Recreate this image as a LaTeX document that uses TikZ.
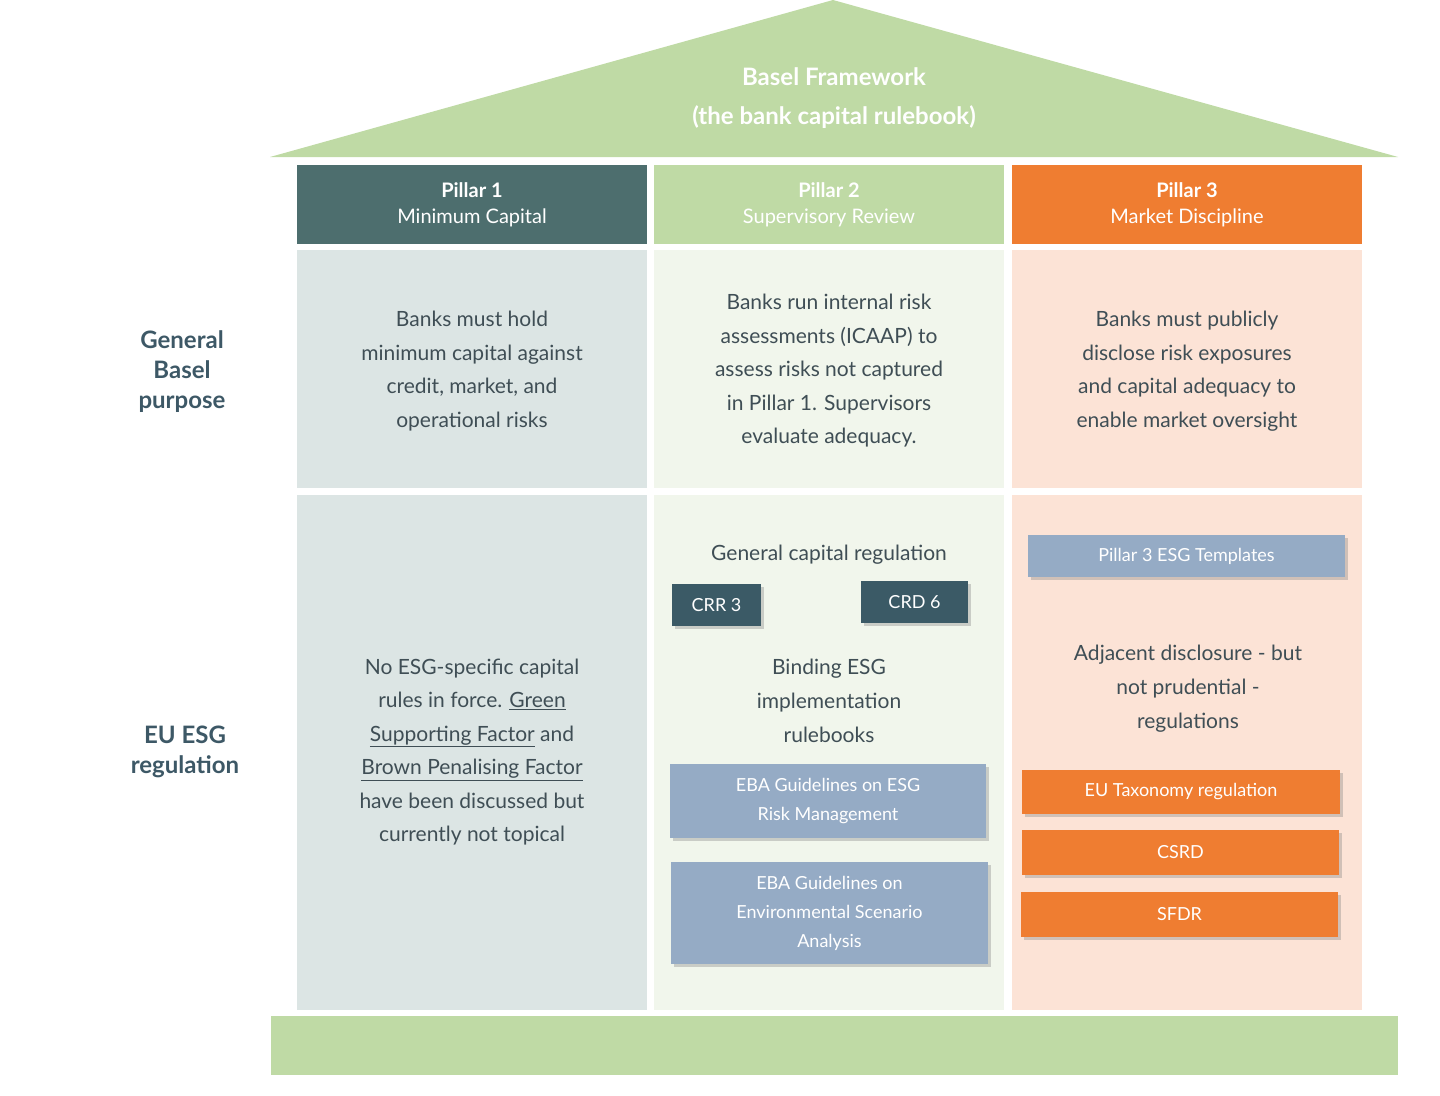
\documentclass[tikz,border=0pt]{standalone}
\usepackage{fontspec}
\setmainfont{Lato}
\usetikzlibrary{shadows}
\definecolor{grn}{HTML}{BFDAA5}
\definecolor{teal}{HTML}{4D6E6E}
\definecolor{org}{HTML}{EF7D31}
\definecolor{c1}{HTML}{DCE5E4}
\definecolor{c2}{HTML}{F1F6EC}
\definecolor{c3}{HTML}{FCE3D6}
\definecolor{txt}{HTML}{3F4E55}
\definecolor{lab}{HTML}{3D5866}
\definecolor{dk}{HTML}{3B5A66}
\definecolor{blu}{HTML}{95ABC5}
\tikzset{
 cell/.style={inner sep=0pt,text=txt,align=center,font=\fontsize{21}{25}\selectfont},
 hdr/.style={align=center,font=\fontsize{20}{26}\selectfont},
 lbl/.style={text=lab,align=center,font=\bfseries\fontsize{24}{30}\selectfont},
 tag/.style={draw=none,minimum height=42pt,text=white,align=center,font=\fontsize{18}{22}\selectfont,drop shadow={shadow xshift=3pt,shadow yshift=-3pt,opacity=0.35}},
}
\begin{document}
\begin{tikzpicture}[x=1pt,y=-1pt]
\useasboundingbox (0,0) rectangle (1440,1095);
\fill[grn] (270,157) -- (833,0) -- (1398,157) -- cycle;
\node[text=white,align=center,font=\bfseries\fontsize{24}{39}\selectfont] (title) at (834,98) {Basel Framework\\(the bank capital rulebook)};
% headers
\fill[teal] (297,165) rectangle (647,244);
\fill[grn] (654,165) rectangle (1004,244);
\fill[org] (1012,165) rectangle (1362,244);
\node[hdr,text=white] (h1) at (472,205) {\textbf{Pillar 1}\\Minimum Capital};
\node[hdr,text=white] (h2) at (829,205) {\textbf{Pillar 2}\\Supervisory Review};
\node[hdr,text=white] (h3) at (1187,205) {\textbf{Pillar 3}\\Market Discipline};
% rows
\fill[c1] (297,250) rectangle (647,488);
\fill[c2] (654,250) rectangle (1004,488);
\fill[c3] (1012,250) rectangle (1362,488);
\fill[c1] (297,495) rectangle (647,1010);
\fill[c2] (654,495) rectangle (1004,1010);
\fill[c3] (1012,495) rectangle (1362,1010);
\fill[grn] (271,1016) rectangle (1398,1075);
% labels
\node[lbl] (l1) at (182,372) {General\\Basel\\purpose};
\node[lbl] (l2) at (185,752) {EU ESG\\regulation};
\node[cell,font=\fontsize{21}{33.5}\selectfont] (t1) at (472,371) {Banks must hold\\minimum capital against\\credit, market, and\\operational risks};
\node[cell,font=\fontsize{21}{33.5}\selectfont] (t2) at (829,371) {Banks run internal risk\\assessments (ICAAP) to\\assess risks not captured\\in Pillar 1. Supervisors\\evaluate adequacy.};
\node[cell,font=\fontsize{21}{33.5}\selectfont] (t3) at (1187,371) {Banks must publicly\\disclose risk exposures\\and capital adequacy to\\enable market oversight};
\node[cell,font=\fontsize{21}{33.5}\selectfont] (t4) at (472,752) {No ESG-specific capital\\rules in force. \underline{Green}\\\underline{Supporting Factor} and\\\underline{Brown Penalising Factor}\\have been discussed but\\currently not topical};
\node[cell] (t5) at (829,555) {General capital regulation};
\node[cell,font=\fontsize{21}{34}\selectfont] (t6) at (829,701) {Binding ESG\\implementation\\rulebooks};
\node[cell,font=\fontsize{21}{34}\selectfont] (t7) at (1188,689) {Adjacent disclosure - but\\not prudential -\\regulations};
% tags
\node[tag,fill=dk,minimum width=89pt] (crr) at (716.5,605) {CRR 3};
\node[tag,fill=dk,minimum width=107pt] (crd) at (914.5,602) {CRD 6};
\node[tag,fill=blu,minimum width=316pt,minimum height=74pt,font=\fontsize{18}{29}\selectfont] (eba1) at (828,801) {EBA Guidelines on ESG\\Risk Management};
\node[tag,fill=blu,minimum width=317pt,minimum height=102pt,font=\fontsize{18}{29}\selectfont] (eba2) at (829.5,913) {EBA Guidelines on\\Environmental Scenario\\Analysis};
\node[tag,fill=blu,minimum width=317pt] (p3t) at (1186.5,556) {Pillar 3 ESG Templates};
\node[tag,fill=org,minimum width=318pt,minimum height=44pt] (tax) at (1181,792) {EU Taxonomy regulation};
\node[tag,fill=org,minimum width=317pt,minimum height=45pt] (csrd) at (1180.5,852.5) {CSRD};
\node[tag,fill=org,minimum width=317pt,minimum height=45pt] (sfdr) at (1179.5,914.5) {SFDR};
\end{tikzpicture}
\end{document}
